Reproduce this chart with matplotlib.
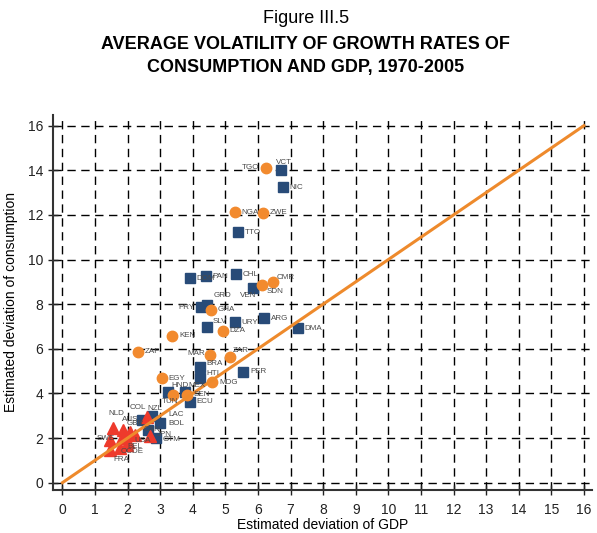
import matplotlib
matplotlib.use("Agg")
import matplotlib.pyplot as plt
import numpy as np

plt.rcParams['font.family'] = ['Liberation Sans', 'DejaVu Sans']

# Países em desenvolvimento (círculos laranja)
circ_names = ['TGO', 'NGA', 'ZWE', 'CMR', 'SDN', 'GHA', 'DZA', 'KEN', 'ZAF', 'MAR',
              'ZAR', 'EGY', 'MDG', 'TUN', 'SEN']
circ_x = [6.24, 5.29, 6.15, 6.46, 6.12, 4.55, 4.92, 3.36, 2.32, 4.52,
          5.14, 3.05, 4.59, 3.39, 3.82]
circ_y = [14.10, 12.13, 12.09, 8.98, 8.86, 7.74, 6.80, 6.58, 5.86, 5.72,
          5.64, 4.69, 4.51, 3.93, 3.93]

# América Latina e Caribe (quadrados azuis)
sq_names = ['VCT', 'NIC', 'TTO', 'CHL', 'PAN', 'DOM', 'VEN', 'GRD', 'PRY', 'ARG',
            'URY', 'SLV', 'DMA', 'BRA', 'PER', 'HTI', 'HND', 'MEX', 'ECU', 'LAC',
            'BOL', 'COL', '', 'GTM']
sq_x = [6.70, 6.76, 5.38, 5.32, 4.40, 3.91, 5.84, 4.43, 4.25, 6.18,
        5.29, 4.43, 7.22, 4.22, 5.54, 4.22, 3.24, 3.76, 3.91, 2.75,
        2.99, 2.44, 2.62, 2.87]
sq_y = [14.01, 13.25, 11.23, 9.35, 9.26, 9.17, 8.73, 7.97, 7.87, 7.38,
        7.20, 6.98, 6.93, 5.19, 4.96, 4.69, 4.06, 4.06, 3.62, 2.99,
        2.68, 2.81, 2.36, 2.00]

# OCDE (triângulos vermelhos)
tri_names = ['NZL', 'NLD', 'AUS', 'GBR', 'SWE', '', 'CAN', 'JPN', 'USA', 'BEL',
             'OCDE', 'FRA']
tri_x = [2.59, 1.55, 1.86, 2.07, 1.46, 1.83, 2.22, 2.68, 2.01, 1.98, 1.76, 1.46]
tri_y = [2.94, 2.45, 2.36, 2.27, 1.91, 2.00, 2.14, 2.09, 1.82, 1.69, 1.56, 1.47]

# deslocamento dos rótulos (pixels: dx, dy, alinhamento)
offsets = {
    'TGO': (-7, 1, 'right'), 'VCT': (-5, 8, 'left'), 'CMR': (4, 5, 'left'),
    'SDN': (5, -7, 'left'), 'VEN': (-13, -8, 'left'), 'GRD': (7, 9, 'left'),
    'PRY': (-6, 0, 'right'), 'SLV': (6, 5, 'left'), 'MAR': (-5, 2, 'right'),
    'BRA': (6, 3, 'left'), 'HTI': (6, 5, 'left'), 'ZAR': (3, 6, 'left'),
    'HND': (3, 7, 'left'), 'MEX': (3, 7, 'left'), 'TUN': (-11, -7, 'left'),
    'LAC': (16, 1, 'left'), 'BOL': (8, -1, 'left'), 'COL': (-12, 12, 'left'),
    'NZL': (1, 9, 'left'), 'NLD': (-5, 14, 'left'), 'AUS': (-1, 10, 'left'),
    'GBR': (-3, 8, 'left'), 'SWE': (-13, 2, 'left'), 'USA': (6, 2, 'left'),
    'BEL': (0, -2, 'left'), 'OCDE': (1, -4, 'left'), 'FRA': (3, -10, 'left'),
    'CAN': (9, 5, 'left'), 'JPN': (7, 2, 'left'), 'GTM': (7, -1, 'left'),
}

fig = plt.figure(figsize=(5.97, 5.33), dpi=100)
ax = fig.add_axes([53/597, 43/533, 539/597, 375/533])

ax.set_xlim(-0.29, 16.25)
ax.set_ylim(-0.33, 16.48)
ax.set_xticks(range(0, 17))
ax.set_yticks(range(0, 17, 2))

# Grades tracejadas
for v in range(0, 17):
    ax.axvline(v, color='black', lw=1, ls=(0, (6, 4)), zorder=0)
for h in range(0, 17, 2):
    ax.axhline(h, color='black', lw=1, ls=(0, (6, 4)), zorder=0)

ax.plot(sq_x, sq_y, 's', color='#284B78', ms=6.5, mec='#284B78', zorder=3)
ax.plot(circ_x, circ_y, 'o', color='#F28A2E', ms=7.5, mec='#F28A2E', zorder=3)
ax.plot(tri_x, tri_y, '^', color='#EE3A2C', ms=9, mec='#EE3A2C', zorder=3)

# Linha de 45 graus
ax.plot([0, 16], [0, 16], color='#EE8A2C', lw=2.2, zorder=4)

k = 0.72
for names, xs, ys in [(circ_names, circ_x, circ_y), (sq_names, sq_x, sq_y),
                      (tri_names, tri_x, tri_y)]:
    for n, x, y in zip(names, xs, ys):
        if not n:
            continue
        dx, dy, ha = offsets.get(n, (7, 0, 'left'))
        ax.annotate(n, (x, y), xytext=(dx * k, dy * k), textcoords='offset points',
                    ha=ha, va='center', fontsize=5.8, color='#4a4a4a', zorder=5)

for s in ['top', 'right']:
    ax.spines[s].set_visible(False)
for s in ['left', 'bottom']:
    ax.spines[s].set_color('#333333')
    ax.spines[s].set_linewidth(1.5)
ax.tick_params(direction='inout', length=7, width=1, labelsize=10,
               colors='#222222')
ax.tick_params(axis='x', pad=6)

ax.set_ylabel('Estimated deviation of consumption', fontsize=10, labelpad=7)
ax.set_xlabel('Estimated deviation of GDP', fontsize=10, va='center')
ax.xaxis.set_label_coords(0.5, -0.094)

fig.text(0.512, 0.966, 'Figure III.5', ha='center', va='center', fontsize=13)
fig.text(0.512, 0.917, 'AVERAGE VOLATILITY OF GROWTH RATES OF', ha='center',
         va='center', fontsize=13, fontweight='bold')
fig.text(0.512, 0.874, 'CONSUMPTION AND GDP, 1970-2005', ha='center',
         va='center', fontsize=13, fontweight='bold')

fig.savefig('out.png', dpi=100)
